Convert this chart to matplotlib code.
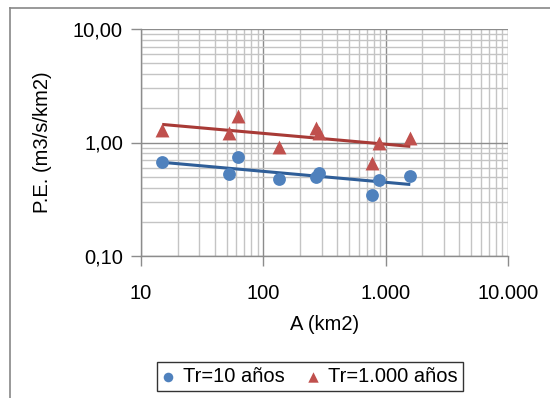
import numpy as np
import matplotlib
matplotlib.use("Agg")
import matplotlib.pyplot as plt
from matplotlib.lines import Line2D
from matplotlib.ticker import FixedLocator, FixedFormatter, LogLocator, NullFormatter

plt.rcParams['font.family'] = ['Liberation Sans', 'DejaVu Sans']

# Data
area_km2 = [14.9, 52, 62, 135, 267, 284, 778, 881, 1590]
pe_tr10 = [0.667, 0.53, 0.74, 0.48, 0.50, 0.54, 0.346, 0.47, 0.51]
pe_tr1000 = [1.30, 1.22, 1.71, 0.91, 1.34, 1.22, 0.66, 1.00, 1.09]
series_names = ["Tr=10 años", "Tr=1.000 años"]
x_ticks = [10, 100, 1000, 10000]
x_ticklabels = ["10", "100", "1.000", "10.000"]
y_ticks = [0.1, 1, 10]
y_ticklabels = ["0,10", "1,00", "10,00"]

W, H = 550, 398
fig = plt.figure(figsize=(W / 100, H / 100), dpi=100)
ax = fig.add_axes([141 / W, 1 - 256 / H, (508 - 141) / W, (256 - 29) / H])
ax.set_xscale('log')
ax.set_yscale('log')
ax.set_xlim(10, 10000)
ax.set_ylim(0.1, 10)

blue = '#4F81BD'
red = '#C0504D'
blue_line = '#2F5E98'
red_line = '#A83A36'

x = np.array(area_km2)
xs = np.array([x.min(), x.max()])
for vals, col in [(pe_tr10, blue_line), (pe_tr1000, red_line)]:
    b, a = np.polyfit(np.log10(x), np.log10(vals), 1)
    ax.plot(xs, 10 ** (a + b * np.log10(xs)), color=col, lw=2.2, zorder=3,
            solid_capstyle='butt')

ax.scatter(area_km2, pe_tr10, s=85, marker='o', color=blue, zorder=4,
           label=series_names[0], linewidths=0)
ax.scatter(area_km2, pe_tr1000, s=100, marker='^', color=red, zorder=4,
           label=series_names[1], linewidths=0)

ax.xaxis.set_major_locator(FixedLocator(x_ticks))
ax.xaxis.set_major_formatter(FixedFormatter(x_ticklabels))
ax.yaxis.set_major_locator(FixedLocator(y_ticks))
ax.yaxis.set_major_formatter(FixedFormatter(y_ticklabels))
ax.xaxis.set_minor_locator(LogLocator(base=10, subs=np.arange(2, 10)))
ax.yaxis.set_minor_locator(LogLocator(base=10, subs=np.arange(2, 10)))
ax.xaxis.set_minor_formatter(NullFormatter())
ax.yaxis.set_minor_formatter(NullFormatter())

ax.grid(True, which='major', color='#8C8C8C', lw=1.0)
ax.grid(True, which='minor', color='#C4C4C4', lw=1.0)
ax.set_axisbelow(True)
for s in ax.spines.values():
    s.set_color('#8C8C8C')
    s.set_linewidth(1.0)
ax.spines['top'].set_visible(False)
ax.spines['right'].set_visible(False)

fs = 14.5
ax.tick_params(which='major', length=7, width=1, color='#8C8C8C',
               labelsize=fs, labelcolor='black')
ax.tick_params(axis='x', which='major', pad=13)
ax.tick_params(axis='y', which='major', pad=6)
ax.tick_params(which='minor', length=0)

ax.set_xlabel("A (km2)", fontsize=fs, labelpad=9)
ax.set_ylabel("P.E. (m3/s/km2)", fontsize=fs, labelpad=15)

leg = fig.legend(loc='center', bbox_to_anchor=(310 / W, 1 - 376.5 / H), ncol=2,
                 fontsize=fs, frameon=True, fancybox=False, handlelength=0.6,
                 handletextpad=0.45, columnspacing=1.1, borderpad=0.25,
                 borderaxespad=0, markerscale=0.75)
leg.get_frame().set_edgecolor('black')
leg.get_frame().set_linewidth(1.0)

# chart border (cropped)
fig.add_artist(Line2D([10 / W, 1.0], [1 - 8 / H, 1 - 8 / H], color='#888888', lw=1.2,
                      transform=fig.transFigure))
fig.add_artist(Line2D([10 / W, 10 / W], [1 - 8 / H, 0.0], color='#888888', lw=1.2,
                      transform=fig.transFigure))

fig.savefig("out.png", dpi=100)
